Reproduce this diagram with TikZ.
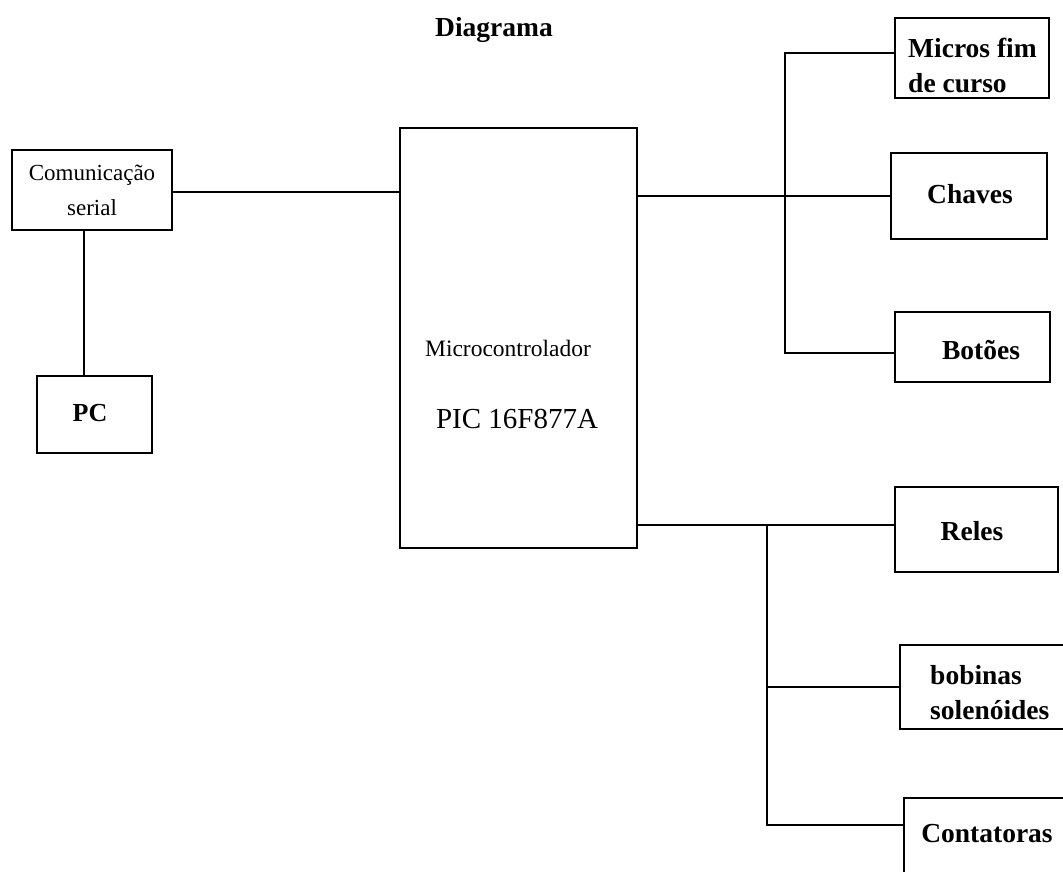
\documentclass[tikz,border=0pt]{standalone}
\usepackage{fontspec}
\setmainfont{Liberation Serif}
\begin{document}
\begin{tikzpicture}[x=1pt,y=-1pt,
  box/.style={draw,line width=1.4pt,minimum width=#1,inner sep=0pt},
  wire/.style={line width=1.4pt},
  lblb/.style={inner sep=0pt,font=\fontsize{27.5}{35}\selectfont\bfseries},
  lblr/.style={inner sep=0pt,font=\fontsize{23}{35}\selectfont}]
\useasboundingbox (0,0) rectangle (1063,872);
\clip (0,0) rectangle (1063,872);
% boxes
\node[box=160pt,minimum height=80pt] (com) at (92,190) {};
\node[box=115pt,minimum height=77pt] (pc) at (94.5,414.5) {};
\node[box=237pt,minimum height=420pt] (mcu) at (518.5,338) {};
\node[box=154pt,minimum height=80pt] (micros) at (972,58) {};
\node[box=156pt,minimum height=86pt] (chaves) at (969,196) {};
\node[box=155pt,minimum height=70pt] (botoes) at (972.5,347) {};
\node[box=163pt,minimum height=85pt] (reles) at (976.5,529.5) {};
\node[box=170pt,minimum height=84pt] (bobinas) at (985,687) {};
\node[box=166pt,minimum height=102pt] (contatoras) at (987,849) {};
% texts
\node[lblb] (title) at (494,30) {Diagrama};
\node[lblr,align=center] (tcom) at (92,190) {Comunicação\\serial};
\node[lblb,font=\fontsize{26}{30}\selectfont\bfseries] (tpc) at (90,413) {PC};
\node[lblr,font=\fontsize{23.5}{30}\selectfont] (tmcu1) at (508,348) {Microcontrolador};
\node[lblr,font=\fontsize{29}{30}\selectfont] (tmcu2) at (517,419) {PIC 16F877A};
\node[lblb,align=left,anchor=west] (tmic) at (908,65) {Micros fim\\de curso};
\node[lblb] (tcha) at (970,194) {Chaves};
\node[lblb] (tbot) at (981,350) {Botões};
\node[lblb] (trel) at (972,531) {Reles};
\node[lblb,align=left,anchor=west] (tbob) at (930,693) {bobinas\\solenóides};
\node[lblb] (tcon) at (987,834) {Contatoras};
% connectors
\coordinate (b1) at (785,197);
\coordinate (b2) at (767,525);
\draw[wire] ([yshift=-2pt]com.east) -- ([yshift=-2pt]com.east -| mcu.west);
\draw[wire] ([xshift=-8pt]com.south) -- ([xshift=-8pt]com.south |- pc.north);
\draw[wire] (mcu.east |- chaves.west) -- (chaves.west);
\draw[wire] ([yshift=5pt]micros.west) -| (b1) |- ([yshift=-6pt]botoes.west);
\draw[wire] (mcu.east |- b2) -- ([yshift=4.5pt]reles.west);
\draw[wire] (b2) |- (bobinas.west);
\draw[wire] (b2) |- ([yshift=24pt]contatoras.west);
\end{tikzpicture}
\end{document}
